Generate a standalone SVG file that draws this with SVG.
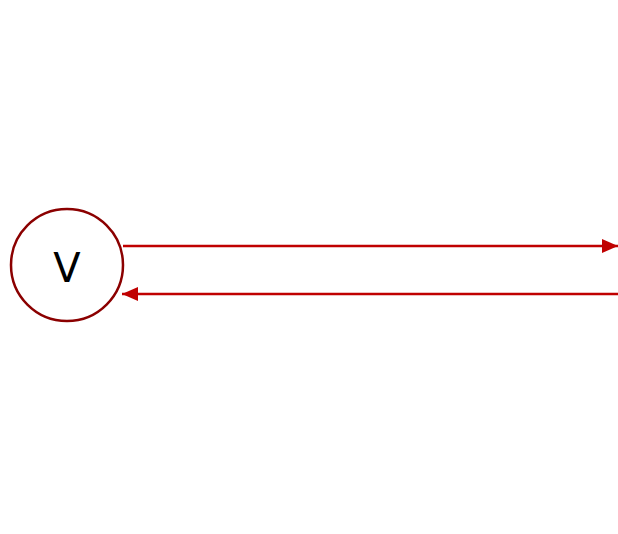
<svg xmlns="http://www.w3.org/2000/svg" width="618" height="534" viewBox="0 0 618 534">
<style>
.node{fill:#fff;stroke:#8b0000;stroke-width:2.5}
.lbl{font-family:"DejaVu Sans","Liberation Sans",sans-serif;font-size:40px;fill:#000;text-anchor:middle}
.edge{stroke:#c00000;stroke-width:2.5;fill:none}
</style>
<defs>
<marker id="ah" markerUnits="userSpaceOnUse" markerWidth="16" markerHeight="16" viewBox="0 0 16 16" refX="16" refY="8" orient="auto">
<path d="M0,1 L16,8 L0,15 Z" fill="#c00000"/>
</marker>
</defs>
<rect width="618" height="534" fill="#fff"/>
<g id="node-V">
<circle class="node" cx="67" cy="265" r="56"/>
<text class="lbl" x="67" y="282">V</text>
</g>
<g id="connectors">
<line class="edge" x1="123" y1="246" x2="618" y2="246" marker-end="url(#ah)"/>
<line class="edge" x1="618" y1="294" x2="122" y2="294" marker-end="url(#ah)"/>
</g>
</svg>
